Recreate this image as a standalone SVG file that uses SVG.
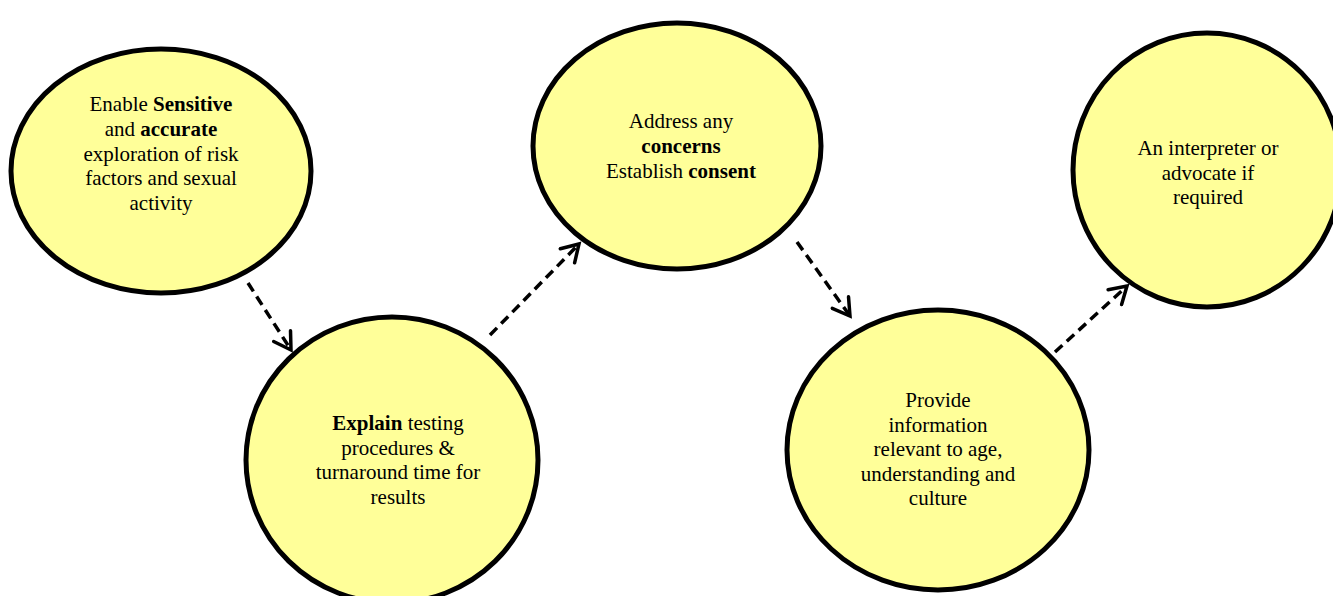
<svg xmlns="http://www.w3.org/2000/svg" width="1333" height="596" viewBox="0 0 1333 596">
<style>
.node{fill:#FFFF99;stroke:#000;stroke-width:5}
.t{font-family:"Liberation Serif","Times New Roman",serif;font-size:21px;fill:#000;text-anchor:middle}
.b{font-weight:bold}
.conn{fill:none;stroke:#000;stroke-width:3.5;stroke-dasharray:10,6}
</style>
<defs>
<marker id="arr" markerUnits="userSpaceOnUse" viewBox="0 0 24 24" refX="20" refY="12" markerWidth="24" markerHeight="24" orient="auto">
<path d="M3.5,2 L20,12 L3.5,22" fill="none" stroke="#000" stroke-width="3.5" stroke-linecap="round" stroke-linejoin="miter"/>
</marker>
</defs>
<rect width="1333" height="596" fill="#fff"/>
<g id="node1">
<ellipse class="node" cx="161" cy="171" rx="150" ry="122"/>
<text class="t" x="161" y="111">Enable <tspan class="b">Sensitive</tspan></text>
<text class="t" x="161" y="136">and <tspan class="b">accurate</tspan></text>
<text class="t" x="161" y="160.5">exploration of risk</text>
<text class="t" x="161" y="185">factors and sexual</text>
<text class="t" x="161" y="209.5">activity</text>
</g>
<g id="node2">
<ellipse class="node" cx="392" cy="460" rx="146" ry="143"/>
<text class="t" x="398" y="430"><tspan class="b">Explain</tspan> testing</text>
<text class="t" x="398" y="454.5">procedures &amp;</text>
<text class="t" x="398" y="479">turnaround time for</text>
<text class="t" x="398" y="503.5">results</text>
</g>
<g id="node3">
<ellipse class="node" cx="677" cy="146" rx="144" ry="123"/>
<text class="t" x="681" y="128">Address any</text>
<text class="t" x="681" y="153" font-weight="bold">concerns</text>
<text class="t" x="681" y="178">Establish <tspan class="b">consent</tspan></text>
</g>
<g id="node4">
<ellipse class="node" cx="938" cy="450" rx="151" ry="140"/>
<text class="t" x="938" y="407">Provide</text>
<text class="t" x="938" y="431.5">information</text>
<text class="t" x="938" y="456">relevant to age,</text>
<text class="t" x="938" y="480.5">understanding and</text>
<text class="t" x="938" y="505">culture</text>
</g>
<g id="node5">
<ellipse class="node" cx="1207" cy="170" rx="134" ry="137"/>
<text class="t" x="1208" y="155">An interpreter or</text>
<text class="t" x="1208" y="180">advocate if</text>
<text class="t" x="1208" y="204">required</text>
</g>
<g id="connectors">
<line class="conn" x1="248" y1="283" x2="291" y2="350" marker-end="url(#arr)"/>
<line class="conn" x1="490" y1="335" x2="579" y2="244" marker-end="url(#arr)"/>
<line class="conn" x1="797" y1="242" x2="850" y2="316" marker-end="url(#arr)"/>
<line class="conn" x1="1055" y1="352" x2="1127" y2="286" marker-end="url(#arr)"/>
</g>
</svg>
